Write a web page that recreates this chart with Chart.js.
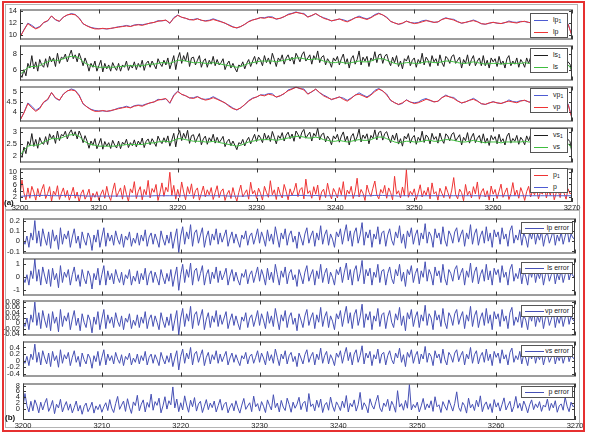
<!DOCTYPE html>
<html><head><meta charset="utf-8">
<script src="https://cdn.jsdelivr.net/npm/chart.js@4.4.1/dist/chart.umd.min.js"></script>
<style>
html,body{margin:0;padding:0;background:#fff;}
#wrap{position:relative;width:589px;height:438px;overflow:hidden;background:#fff;font-family:"Liberation Sans",Arial,sans-serif;}
canvas{position:absolute;left:0;}
.frame{position:absolute;box-sizing:border-box;}
.leg{position:absolute;box-sizing:border-box;border:1px solid #555;background:#fff;}
.leg .ln{position:absolute;height:0;border-top:1px solid;}
.leg .tx{position:absolute;font-size:7px;line-height:8px;color:#222;white-space:nowrap;}
.leg sub{font-size:5px;vertical-align:-1px;line-height:0;}
.lab{position:absolute;font-weight:bold;font-size:8px;line-height:8px;color:#111;}
</style></head><body><div id="wrap"></div>
<script>
// ---- time axis ----
const T_START = 3200, T_END = 3270;
const STEP_SMOOTH = 0.5, STEP_FINE = 0.25;
const xTicks = [3200,3210,3220,3230,3240,3250,3260,3270];

// ---- y tick labels ----
const lpTicks = [10,12,14];
const lsTicks = [6,8];
const vpTicks = [4,4.5,5];
const vsTicks = [2,2.5,3];
const pTicks = [2,4,6,8,10];
const lpErrTicks = [-0.1,0,0.1,0.2];
const lsErrTicks = [-1,0,1];
const vpErrTicks = [-0.04,-0.02,0,0.02,0.04,0.06,0.08];
const vsErrTicks = [-0.4,-0.2,0,0.2,0.4];
const pErrTicks = [0,2,4,6,8];

// ---- series (smooth ones every 0.5, noisy ones every 0.25) ----
const lp = [9.6,10.8,11.9,11.4,11.0,11.3,12.1,12.4,13.2,12.6,
12.3,13.0,13.4,13.5,13.4,12.8,11.9,11.5,11.2,11.0,
11.0,11.1,11.0,11.1,11.2,11.3,11.4,11.5,11.4,11.6,
11.7,11.6,11.8,12.0,12.1,12.3,12.4,12.5,12.0,12.8,
13.3,13.0,12.8,12.6,12.5,12.7,12.5,12.3,12.4,12.6,
12.4,12.2,12.0,11.6,11.3,11.2,11.4,11.8,12.2,12.5,
12.7,12.9,12.8,13.0,12.9,12.7,12.8,13.1,13.4,13.6,
13.8,13.7,13.5,13.0,13.3,13.6,13.2,12.8,12.6,12.4,
12.5,12.7,12.4,12.2,12.5,12.9,13.0,12.8,12.6,12.9,
13.3,13.6,13.4,12.9,12.3,12.0,11.8,12.0,12.3,12.1,
11.9,12.0,12.2,12.4,12.3,12.1,12.2,12.6,12.8,12.7,
12.5,12.2,12.0,12.1,12.3,12.4,12.2,11.9,11.8,12.0,
12.1,12.0,11.9,12.1,12.2,12.1,12.0,12.2,12.3,12.1,
12.0,12.1,12.2,12.1,12.0,12.1,12.2,12.0,11.9,11.8,
9.8];
const lp1 = [9.62,10.85,11.98,11.6,11.1,11.42,12.06,12.33,13.2,12.52,
12.27,13.02,13.34,13.62,13.45,12.89,11.86,11.53,11.26,11.11,
11.04,11.05,11.0,11.06,11.22,11.37,11.45,11.59,11.43,11.68,
11.76,11.71,11.84,11.97,12.11,12.4,12.36,12.48,11.93,12.92,
13.35,12.97,12.82,12.55,12.61,12.76,12.44,12.4,12.47,12.72,
12.48,12.25,11.95,11.69,11.37,11.14,11.42,11.76,12.28,12.54,
12.68,12.93,12.91,13.07,13.04,12.64,12.82,13.06,13.5,13.65,
13.89,13.66,13.63,13.05,13.25,13.61,13.17,12.91,12.67,12.34,
12.54,12.67,12.56,12.3,12.58,12.88,13.18,12.89,12.71,12.97,
13.44,13.68,13.35,13.02,12.26,12.03,11.78,11.93,12.34,12.07,
12.01,12.08,12.37,12.49,12.24,12.13,12.17,12.61,12.9,12.68,
12.63,12.26,11.95,12.12,12.27,12.52,12.25,11.88,11.8,11.94,
12.14,11.97,11.92,12.05,12.35,12.16,12.11,12.28,12.24,12.12,
11.97,12.11,12.15,12.18,12.04,12.06,12.2,11.97,12.02,11.87,
9.82];
const ls = [5.4,5.8,6.3,6.4,6.4,6.5,6.8,7.0,7.2,7.2,
7.2,7.4,7.6,7.7,7.7,7.5,7.0,6.7,6.5,6.4,
6.3,6.3,6.3,6.3,6.3,6.4,6.4,6.5,6.5,6.5,
6.5,6.5,6.6,6.7,6.7,6.8,6.9,6.9,6.8,7.0,
7.2,7.2,7.1,7.0,6.9,6.9,6.9,6.8,6.8,6.9,
6.8,6.7,6.6,6.5,6.4,6.3,6.4,6.6,6.8,6.9,
7.0,7.1,7.1,7.1,7.1,7.0,7.1,7.2,7.3,7.4,
7.5,7.5,7.4,7.3,7.3,7.4,7.3,7.1,7.0,6.9,
6.9,7.0,6.9,6.8,6.9,7.0,7.1,7.0,7.0,7.1,
7.3,7.4,7.4,7.2,7.0,6.8,6.7,6.8,6.9,6.9,
6.8,6.8,6.9,7.0,7.0,6.9,6.9,7.0,7.1,7.1,
7.0,6.9,6.8,6.8,6.9,7.0,6.9,6.8,6.7,6.8,
6.8,6.8,6.7,6.8,6.8,6.8,6.8,6.8,6.9,6.8,
6.8,6.8,6.8,6.8,6.8,6.8,6.8,6.7,6.7,6.6,
6.0];
const ls1 = [5.4,5.0,6.0,5.2,6.8,6.2,7.8,6.1,7.0,5.8,7.3,6.6,6.3,7.4,6.3,7.7,7.0,7.5,6.4,8.1,
6.8,7.6,7.4,8.0,7.0,7.8,8.5,7.4,7.9,7.0,8.1,7.4,6.5,7.5,6.8,5.8,6.8,6.3,7.1,5.8,
6.5,7.2,5.7,6.8,6.1,6.6,5.8,6.9,6.3,5.9,6.8,5.8,6.6,6.3,7.1,5.9,6.6,6.2,7.0,6.0,
6.8,6.3,7.2,5.9,6.8,7.1,6.3,7.1,6.6,6.1,7.4,6.8,6.4,7.2,6.6,7.5,6.1,6.9,7.8,6.0,
7.4,8.2,6.8,7.8,7.1,8.2,6.4,7.5,7.6,6.6,7.2,7.8,6.3,7.1,7.4,6.3,7.2,6.7,7.7,6.5,
7.3,6.6,6.9,7.4,6.0,6.7,7.1,6.2,6.8,6.2,5.7,6.6,6.4,7.0,6.1,6.8,7.3,6.4,7.1,7.7,
6.7,7.6,7.2,6.5,7.8,6.9,7.5,6.7,8.1,7.3,6.4,7.5,7.1,7.9,6.7,7.5,7.9,7.1,7.6,6.7,
8.1,7.6,7.0,7.9,8.3,7.1,7.5,7.9,6.7,7.8,7.3,8.4,6.9,7.6,7.8,6.6,7.4,7.0,6.3,7.5,
7.1,7.7,6.6,7.4,8.0,6.7,7.4,6.2,7.4,7.8,6.7,7.3,8.4,6.6,7.6,7.1,7.7,6.4,7.5,7.1,
8.3,6.9,7.9,8.0,6.8,7.7,8.0,7.1,6.5,7.6,6.9,7.8,6.4,7.1,6.1,7.4,7.1,7.8,6.5,7.2,
7.5,6.3,7.3,6.8,8.1,6.6,7.6,7.2,6.4,7.8,7.0,7.4,6.5,7.9,6.9,6.4,7.7,7.4,6.8,7.7,
7.9,6.8,7.2,7.6,6.2,7.3,6.8,7.9,6.5,7.3,7.8,6.5,7.1,7.5,6.5,7.8,6.5,7.2,6.2,7.5,
7.0,7.4,6.4,7.7,6.7,7.1,6.2,7.4,7.8,6.5,7.1,6.7,7.5,6.3,7.3,6.9,6.3,7.5,6.8,7.6,
6.4,7.2,6.7,7.4,6.2,7.0,7.3,6.5,7.0,7.5,6.3,7.1,6.6,7.4,6.3,6.9,7.5,6.5,7.0,6.7,
5.4];
const vp = [3.6,3.97,4.43,4.22,4.05,4.18,4.51,4.64,4.97,4.72,
4.6,4.89,5.06,5.1,5.06,4.81,4.43,4.26,4.13,4.05,
4.05,4.09,4.05,4.09,4.13,4.18,4.22,4.26,4.22,4.3,
4.34,4.3,4.39,4.47,4.51,4.6,4.64,4.68,4.47,4.81,
5.02,4.89,4.81,4.72,4.68,4.76,4.68,4.6,4.64,4.72,
4.64,4.55,4.47,4.3,4.18,4.13,4.22,4.39,4.55,4.68,
4.76,4.85,4.81,4.89,4.85,4.76,4.81,4.93,5.06,5.14,
5.23,5.18,5.1,4.89,5.02,5.14,4.97,4.81,4.72,4.64,
4.68,4.76,4.64,4.55,4.68,4.85,4.89,4.81,4.72,4.85,
5.02,5.14,5.06,4.85,4.6,4.47,4.39,4.47,4.6,4.51,
4.43,4.47,4.55,4.64,4.6,4.51,4.55,4.72,4.81,4.76,
4.68,4.55,4.47,4.51,4.6,4.64,4.55,4.43,4.39,4.47,
4.51,4.47,4.43,4.51,4.55,4.51,4.47,4.55,4.6,4.51,
4.47,4.51,4.55,4.51,4.47,4.51,4.55,4.47,4.43,4.39,
3.7];
const vp1 = [3.61,3.99,4.46,4.3,4.09,4.23,4.49,4.61,4.97,4.69,
4.59,4.9,5.04,5.15,5.08,4.85,4.41,4.27,4.15,4.09,
4.07,4.07,4.05,4.07,4.14,4.21,4.24,4.3,4.23,4.33,
4.36,4.34,4.41,4.46,4.51,4.64,4.62,4.67,4.44,4.86,
5.04,4.88,4.82,4.7,4.72,4.78,4.66,4.64,4.67,4.77,
4.67,4.57,4.45,4.34,4.21,4.11,4.23,4.37,4.58,4.7,
4.75,4.86,4.85,4.92,4.91,4.74,4.82,4.91,5.1,5.16,
5.25,5.16,5.15,4.91,5.0,5.14,4.96,4.85,4.75,4.62,
4.7,4.75,4.7,4.59,4.71,4.84,4.96,4.85,4.76,4.88,
5.08,5.17,5.04,4.9,4.58,4.48,4.38,4.44,4.62,4.5,
4.47,4.5,4.62,4.68,4.58,4.52,4.54,4.72,4.85,4.75,
4.73,4.57,4.45,4.52,4.59,4.69,4.57,4.42,4.39,4.45,
4.53,4.46,4.44,4.49,4.61,4.53,4.51,4.58,4.58,4.52,
4.46,4.51,4.53,4.54,4.49,4.49,4.55,4.46,4.48,4.42,
3.72];
const vs = [2.0,2.23,2.4,2.44,2.44,2.47,2.58,2.65,2.72,2.72,
2.72,2.79,2.86,2.89,2.89,2.82,2.65,2.54,2.47,2.44,
2.4,2.4,2.4,2.4,2.4,2.44,2.44,2.47,2.47,2.47,
2.47,2.47,2.51,2.54,2.54,2.58,2.61,2.61,2.58,2.65,
2.72,2.72,2.68,2.65,2.61,2.61,2.61,2.58,2.58,2.61,
2.58,2.54,2.51,2.47,2.44,2.4,2.44,2.51,2.58,2.61,
2.65,2.68,2.68,2.68,2.68,2.65,2.68,2.72,2.75,2.79,
2.82,2.82,2.79,2.75,2.75,2.79,2.75,2.68,2.65,2.61,
2.61,2.65,2.61,2.58,2.61,2.65,2.68,2.65,2.65,2.68,
2.75,2.79,2.79,2.72,2.65,2.58,2.54,2.58,2.61,2.61,
2.58,2.58,2.61,2.65,2.65,2.61,2.61,2.65,2.68,2.68,
2.65,2.61,2.58,2.58,2.61,2.65,2.61,2.58,2.54,2.58,
2.58,2.58,2.54,2.58,2.58,2.58,2.58,2.58,2.61,2.58,
2.58,2.58,2.58,2.58,2.58,2.58,2.58,2.54,2.54,2.51,
2.3];
const vs1 = [2.05,1.92,2.36,2.08,2.6,2.43,2.94,2.39,2.69,2.31,2.77,2.55,2.48,2.81,2.47,2.93,2.72,2.87,2.52,3.05,
2.64,2.9,2.84,3.04,2.71,2.96,3.1,2.84,3.02,2.71,3.05,2.85,2.55,2.85,2.62,2.31,2.62,2.44,2.72,2.29,
2.5,2.73,2.27,2.6,2.4,2.55,2.3,2.65,2.45,2.32,2.62,2.29,2.57,2.47,2.7,2.34,2.55,2.42,2.67,2.37,
2.62,2.47,2.75,2.34,2.61,2.71,2.46,2.72,2.57,2.39,2.83,2.63,2.51,2.76,2.56,2.84,2.4,2.66,2.95,2.37,
2.85,3.07,2.64,2.95,2.73,3.08,2.52,2.85,2.89,2.56,2.76,2.94,2.46,2.71,2.83,2.48,2.76,2.61,2.91,2.53,
2.78,2.55,2.67,2.82,2.38,2.59,2.7,2.42,2.62,2.44,2.25,2.55,2.49,2.69,2.41,2.64,2.78,2.5,2.71,2.91,
2.6,2.88,2.76,2.55,2.96,2.68,2.86,2.6,3.03,2.78,2.5,2.85,2.73,2.98,2.62,2.87,3.0,2.72,2.92,2.61,
3.05,2.9,2.72,3.0,3.12,2.74,2.88,3.0,2.62,2.95,2.82,3.17,2.67,2.9,2.96,2.58,2.83,2.7,2.46,2.84,
2.71,2.91,2.57,2.83,3.01,2.61,2.83,2.45,2.81,2.94,2.6,2.8,3.13,2.58,2.88,2.73,2.93,2.5,2.86,2.73,
3.1,2.67,2.99,3.04,2.66,2.94,3.02,2.75,2.55,2.88,2.66,2.96,2.49,2.72,2.4,2.83,2.71,2.94,2.53,2.76,
2.86,2.48,2.78,2.63,3.04,2.56,2.88,2.78,2.5,2.95,2.69,2.81,2.53,2.96,2.68,2.52,2.93,2.83,2.63,2.91,
2.98,2.62,2.76,2.89,2.45,2.78,2.63,2.98,2.53,2.79,2.95,2.55,2.74,2.86,2.53,2.93,2.54,2.74,2.43,2.86,
2.68,2.81,2.5,2.91,2.59,2.72,2.45,2.83,2.96,2.53,2.73,2.61,2.86,2.48,2.78,2.66,2.46,2.84,2.63,2.88,
2.5,2.76,2.61,2.83,2.45,2.71,2.78,2.53,2.68,2.86,2.48,2.73,2.58,2.81,2.46,2.67,2.84,2.51,2.69,2.59,
2.1];
const p = [2.2,2.3,2.4,2.4,2.5,2.5,2.5,2.5,2.4,2.4,
2.4,2.5,2.5,2.5,2.5,2.4,2.4,2.3,2.3,2.3,
2.3,2.3,2.3,2.3,2.3,2.3,2.3,2.3,2.3,2.3,
2.3,2.3,2.3,2.3,2.4,2.4,2.4,2.4,2.4,2.4,
2.4,2.4,2.4,2.4,2.4,2.4,2.4,2.4,2.4,2.4,
2.4,2.4,2.4,2.3,2.3,2.3,2.3,2.3,2.4,2.4,
2.4,2.4,2.4,2.4,2.4,2.4,2.4,2.4,2.4,2.5,
2.5,2.5,2.5,2.4,2.4,2.5,2.4,2.4,2.4,2.4,
2.4,2.4,2.4,2.4,2.4,2.4,2.4,2.4,2.4,2.4,
2.5,2.5,2.5,2.4,2.4,2.4,2.3,2.4,2.4,2.4,
2.4,2.4,2.4,2.4,2.4,2.4,2.4,2.4,2.4,2.4,
2.4,2.4,2.4,2.4,2.4,2.4,2.4,2.4,2.3,2.4,
2.4,2.4,2.4,2.4,2.4,2.4,2.4,2.4,2.4,2.4,
2.4,2.4,2.4,2.4,2.4,2.4,2.4,2.4,2.4,2.4,
2.4];
const p1 = [2.7,7.4,3.3,1.1,4.9,1.6,5.4,3.6,1.0,4.7,2.0,4.3,6.0,1.5,3.1,5.3,0.6,3.9,2.6,5.6,
1.2,3.2,4.9,1.9,4.1,1.0,2.9,5.1,1.6,3.6,0.4,3.1,4.3,1.3,2.6,4.5,0.7,3.2,1.9,3.7,
1.0,2.9,4.3,1.6,5.4,2.4,0.9,4.0,6.5,2.0,3.5,4.9,1.3,5.7,2.8,0.6,4.6,3.3,6.9,1.5,
3.8,5.3,1.1,4.4,2.7,7.3,1.7,4.7,3.5,6.0,0.9,3.3,6.5,2.2,5.1,3.7,9.9,2.6,5.7,1.3,
4.4,1.9,6.8,3.6,1.1,5.3,3.0,6.2,1.5,4.0,4.9,1.0,3.2,5.5,2.0,4.3,2.7,5.0,1.2,3.4,
5.6,1.8,3.8,4.6,0.9,2.9,4.1,1.5,5.0,2.5,0.7,3.5,5.8,2.0,3.2,4.3,1.3,6.7,3.0,4.1,
1.5,4.8,3.2,1.0,5.4,3.5,1.9,7.2,2.7,4.3,1.2,5.2,2.9,1.7,6.0,3.8,1.1,4.6,2.6,4.0,
6.4,2.1,4.3,5.0,1.4,7.7,3.1,4.0,1.6,5.3,2.9,5.8,1.0,3.6,4.5,1.8,6.4,3.3,1.4,4.7,
3.4,1.7,5.0,2.7,6.9,1.2,4.2,3.0,5.4,1.5,3.7,8.0,2.0,4.4,3.2,0.9,5.8,3.5,2.2,4.8,
7.1,2.7,1.4,4.4,3.2,5.7,1.6,4.9,3.4,1.1,8.6,2.9,4.0,1.7,5.2,2.5,10.7,1.9,3.8,2.7,
4.6,1.2,3.3,5.9,2.0,4.0,2.6,5.1,1.4,6.5,3.0,3.7,1.0,4.8,3.2,1.8,5.4,3.5,1.5,4.2,
8.2,2.8,1.4,4.5,3.4,0.8,6.0,2.6,3.9,1.7,5.3,3.0,6.8,1.3,3.6,4.7,2.0,4.0,1.0,5.5,
2.9,4.4,1.5,3.8,6.1,1.9,3.5,4.9,1.2,3.1,6.6,2.5,4.2,1.6,5.0,3.3,0.9,3.7,5.4,2.0,
4.0,2.7,4.8,1.4,3.6,2.9,5.7,1.7,4.2,2.6,5.1,1.1,3.3,4.0,1.8,6.4,3.2,1.3,4.6,3.0,
3.6];
const lpErr = [.02,-.03,.05,-.06,.08,.01,.2,-.02,.1,-.05,.12,.03,-.04,.09,-.07,.11,0,.06,-.08,.13,
-.03,.07,.02,.1,-.06,.04,.12,-.02,.05,-.07,.09,.01,-.04,.08,.03,-.09,.06,-.01,.11,-.06,
.04,.13,-.05,.08,0,.06,-.04,.1,.02,-.03,.07,-.06,.05,.01,.09,-.05,.03,-.02,.08,-.04,
.06,0,.11,-.05,.04,.08,-.03,.07,.01,-.06,.1,.02,-.04,.06,-.02,.09,-.07,.03,.12,-.11,
.05,.14,-.03,.09,.02,.16,-.05,.08,.11,-.02,.06,.13,-.06,.04,.1,-.04,.07,.01,.12,-.03,
.08,-.01,.05,.11,-.05,.03,.09,-.02,.07,0,-.06,.06,.02,.1,-.04,.05,.08,-.03,.04,.12,
-.02,.09,.03,-.05,.11,0,.07,-.03,.14,.04,-.06,.08,.02,.12,-.04,.06,.1,-.01,.05,-.07,
.09,.03,-.04,.07,.13,-.02,.05,.1,-.05,.08,.01,.15,-.03,.06,.11,-.04,.07,.02,-.06,.09,
.04,.12,-.03,.07,.16,0,.1,-.05,.08,.13,-.02,.06,.18,-.04,.09,.03,.11,-.06,.07,.02,
.14,-.03,.08,.1,-.05,.06,.12,.01,-.04,.09,.03,.15,-.02,.07,-.07,.1,.04,.13,-.03,.06,
.11,-.04,.08,.02,.17,-.02,.09,.05,-.06,.12,.03,.08,-.03,.14,.01,-.05,.1,.06,-.02,.09,
.13,-.01,.06,.11,-.05,.08,.02,.16,-.03,.07,.12,-.04,.05,.1,-.02,.14,0,.08,-.06,.11,
.04,.09,-.03,.13,.02,.07,-.05,.1,.15,-.02,.06,.01,.11,-.04,.08,.03,-.06,.09,.02,.12,
-.03,.07,.01,.1,-.05,.05,.08,-.02,.04,.11,-.04,.06,0,.09,-.03,.05,.12,-.01,.07,.03,
.02];
const lsErr = [0,-.4,.2,-.6,.5,-.1,1.4,-.3,.6,-.6,.8,.1,-.5,.6,-.7,.7,-.2,.3,-.8,.9,
-.4,.4,0,.6,-.6,.2,.8,-.3,.2,-.7,.6,-.1,-.5,.5,.1,-.9,.3,-.2,.7,-.6,
.2,.9,-.6,.5,-.2,.3,-.5,.6,0,-.4,.4,-.6,.2,-.1,.6,-.6,.1,-.3,.5,-.5,
.3,-.2,.7,-.6,.2,.5,-.4,.4,-.1,-.6,.6,0,-.5,.3,-.3,.6,-.7,.1,.8,-1,
.2,1,-.4,.6,0,1.1,-.6,.5,.7,-.3,.3,.9,-.6,.2,.6,-.5,.4,-.1,.8,-.4,
.5,-.2,.2,.7,-.6,.1,.6,-.3,.4,-.2,-.6,.3,0,.6,-.5,.2,.5,-.4,.2,.8,
-.3,.6,.1,-.6,.7,-.2,.4,-.4,1,.2,-.6,.5,0,.8,-.5,.3,.6,-.2,.2,-.7,
.6,.1,-.5,.4,.9,-.3,.2,.6,-.6,.5,-.1,1,-.4,.3,.7,-.5,.4,0,-.6,.6,
.2,.8,-.4,.4,1.1,-.2,.6,-.6,.5,.9,-.3,.3,1.3,-.5,.6,.1,.7,-.6,.4,0,
1,-.4,.5,.6,-.6,.3,.8,-.1,-.5,.6,.1,1,-.3,.4,-.7,.6,.2,.9,-.4,.3,
.7,-.5,.5,0,1.2,-.3,.6,.2,-.6,.8,.1,.5,-.4,1,-.1,-.6,.6,.3,-.3,.6,
.9,-.2,.3,.7,-.6,.5,0,1.1,-.4,.4,.8,-.5,.2,.6,-.3,1,-.2,.5,-.6,.7,
.2,.6,-.4,.9,0,.4,-.6,.6,1,-.3,.3,-.1,.7,-.5,.5,.1,-.6,.6,0,.8,
-.4,.4,-.1,.6,-.6,.2,.5,-.3,.2,.7,-.5,.3,-.2,.6,-.4,.2,.8,-.2,.4,.1,
0];
const vpErr = [.008,-.012,.02,-.024,.032,.004,.08,-.008,.04,-.02,.048,.012,-.016,.036,-.028,.044,0,.024,-.032,.052,
-.012,.028,.008,.04,-.024,.016,.048,-.008,.02,-.028,.036,.004,-.016,.032,.012,-.036,.024,-.004,.044,-.024,
.016,.052,-.02,.032,0,.024,-.016,.04,.008,-.012,.028,-.024,.02,.004,.036,-.02,.012,-.008,.032,-.016,
.024,0,.044,-.02,.016,.032,-.012,.028,.004,-.024,.04,.008,-.016,.024,-.008,.036,-.028,.012,.048,-.044,
.02,.056,-.012,.036,.008,.064,-.02,.032,.044,-.008,.024,.052,-.024,.016,.04,-.016,.028,.004,.048,-.012,
.032,-.004,.02,.044,-.02,.012,.036,-.008,.028,0,-.024,.024,.008,.04,-.016,.02,.032,-.012,.016,.048,
-.008,.036,.012,-.02,.044,0,.028,-.012,.056,.016,-.024,.032,.008,.048,-.016,.024,.04,-.004,.02,-.028,
.036,.012,-.016,.028,.052,-.008,.02,.04,-.02,.032,.004,.06,-.012,.024,.044,-.016,.028,.008,-.024,.036,
.016,.048,-.012,.028,.064,0,.04,-.02,.032,.052,-.008,.024,.072,-.016,.036,.012,.044,-.024,.028,.008,
.056,-.012,.032,.04,-.02,.024,.048,.004,-.016,.036,.012,.06,-.008,.028,-.028,.04,.016,.052,-.012,.024,
.044,-.016,.032,.008,.068,-.008,.036,.02,-.024,.048,.012,.032,-.012,.056,.004,-.02,.04,.024,-.008,.036,
.052,-.004,.024,.044,-.02,.032,.008,.064,-.012,.028,.048,-.016,.02,.04,-.008,.056,0,.032,-.024,.044,
.016,.036,-.012,.052,.008,.028,-.02,.04,.06,-.008,.024,.004,.044,-.016,.032,.012,-.024,.036,.008,.048,
-.012,.028,.004,.04,-.02,.02,.032,-.008,.016,.044,-.016,.024,0,.036,-.012,.02,.048,-.004,.028,.012,
.008];
const vsErr = [.05,-.08,.13,-.15,.2,.03,.5,-.05,.25,-.13,.3,.08,-.1,.23,-.18,.28,0,.15,-.2,.33,
-.08,.18,.05,.25,-.15,.1,.3,-.05,.13,-.18,.23,.03,-.1,.2,.08,-.23,.15,-.03,.28,-.15,
.1,.33,-.13,.2,0,.15,-.1,.25,.05,-.08,.18,-.15,.13,.03,.23,-.13,.08,-.05,.2,-.1,
.15,0,.28,-.13,.1,.2,-.08,.18,.03,-.15,.25,.05,-.1,.15,-.05,.23,-.18,.08,.3,-.28,
.13,.35,-.08,.23,.05,.4,-.13,.2,.28,-.05,.15,.33,-.15,.1,.25,-.1,.18,.03,.3,-.08,
.2,-.03,.13,.28,-.13,.08,.23,-.05,.18,0,-.15,.15,.05,.25,-.1,.13,.2,-.08,.1,.3,
-.05,.23,.08,-.13,.28,0,.18,-.08,.35,.1,-.15,.2,.05,.3,-.1,.15,.25,-.03,.13,-.18,
.23,.08,-.1,.18,.33,-.05,.13,.25,-.13,.2,.03,.38,-.08,.15,.28,-.1,.18,.05,-.15,.23,
.1,.3,-.08,.18,.4,0,.25,-.13,.2,.33,-.05,.15,.45,-.1,.23,.08,.28,-.15,.18,.05,
.35,-.08,.2,.25,-.13,.15,.3,.03,-.1,.23,.08,.38,-.05,.18,-.18,.25,.1,.33,-.08,.15,
.28,-.1,.2,.05,.43,-.05,.23,.13,-.15,.3,.08,.2,-.08,.35,.03,-.13,.25,.15,-.05,.23,
.33,-.03,.15,.28,-.13,.2,.05,.4,-.08,.18,.3,-.1,.13,.25,-.05,.35,0,.2,-.15,.28,
.1,.23,-.08,.33,.05,.18,-.13,.25,.38,-.05,.15,.03,.28,-.1,.2,.08,-.15,.23,.05,.3,
-.08,.18,.03,.25,-.13,.13,.2,-.05,.1,.28,-.1,.15,0,.23,-.08,.13,.3,-.03,.18,.08,
.05];
const pErr = [0.5,5.2,1.0,-1.2,2.5,-0.8,3.0,1.2,-1.5,2.2,-0.5,1.8,3.5,-1.0,0.6,2.8,-1.8,1.5,0.2,3.2,
-1.2,0.8,2.4,-0.6,1.6,-1.5,0.4,2.6,-0.9,1.1,-2.0,0.7,1.9,-1.1,0.3,2.2,-1.6,0.9,-0.4,1.4,
-1.3,0.6,2.0,-0.7,3.1,0.1,-1.4,1.7,4.2,-0.3,1.2,2.6,-1.0,3.4,0.5,-1.7,2.3,1.0,4.6,-0.8,
1.5,3.0,-1.2,2.1,0.4,5.0,-0.6,2.4,1.1,3.6,-1.5,0.9,4.1,-0.2,2.7,1.3,7.5,0.2,3.3,-1.1,
2.0,-0.5,4.4,1.2,-1.3,2.9,0.6,3.8,-0.9,1.6,2.5,-1.4,0.8,3.1,-0.4,1.9,0.3,2.6,-1.2,1.0,
3.2,-0.6,1.4,2.2,-1.5,0.5,1.8,-0.8,2.7,0.2,-1.6,1.2,3.5,-0.3,0.9,2.0,-1.1,4.3,0.6,1.7,
-0.9,2.4,0.8,-1.4,3.0,1.1,-0.5,4.8,0.3,1.9,-1.2,2.8,0.5,-0.7,3.6,1.4,-1.3,2.2,0.1,1.5,
3.9,-0.4,1.8,2.5,-1.1,5.2,0.7,1.6,-0.8,2.9,0.4,3.3,-1.4,1.2,2.1,-0.6,4.0,0.9,-1.0,2.3,
1.0,-0.7,2.6,0.3,4.5,-1.2,1.8,0.6,3.0,-0.9,1.3,5.6,-0.4,2.0,0.8,-1.5,3.4,1.1,-0.2,2.4,
4.6,0.2,-1.1,1.9,0.7,3.2,-0.8,2.5,1.0,-1.3,6.2,0.5,1.7,-0.6,2.8,0.1,8.3,-0.5,1.4,0.3,
2.2,-1.2,0.9,3.5,-0.4,1.6,0.2,2.7,-1.0,4.1,0.6,1.3,-1.4,2.4,0.8,-0.6,3.0,1.1,-0.9,1.8,
5.8,0.4,-1.0,2.1,1.0,-1.6,3.6,0.2,1.5,-0.7,2.9,0.6,4.4,-1.1,1.2,2.3,-0.3,1.7,-1.4,3.1,
0.5,2.0,-0.9,1.4,3.7,-0.5,1.1,2.5,-1.2,0.7,4.2,0.1,1.8,-0.8,2.6,0.9,-1.5,1.3,3.0,-0.4,
1.6,0.3,2.4,-1.0,1.2,0.5,3.3,-0.7,1.8,0.2,2.7,-1.3,0.9,1.6,-0.6,4.0,0.8,-1.1,2.2,0.6,
1.2];

// ---- styling ----
const RED = '#ee3434', BLUE = '#4d5bd2', BLACK = '#1e1e1e', GREEN = '#3fbd3f', BLUE_B = '#4650b4';
const FONT = '"Liberation Sans", Arial, sans-serif';
const W = 589;
const wrap = document.getElementById('wrap');

function pts(arr, step){ return arr.map((v,i)=>({x: T_START + i*step, y: v})); }

const framePlugin = {
  id: 'frame',
  afterDatasetsDraw(chart){
    const {ctx, chartArea: a} = chart;
    const x = chart.scales.x, y = chart.scales.y;
    ctx.save();
    ctx.strokeStyle = '#3a3a3a'; ctx.lineWidth = 1;
    ctx.beginPath();
    for (const v of xTicks){
      const px = Math.round(x.getPixelForValue(v)) + 0.5;
      ctx.moveTo(px, a.top); ctx.lineTo(px, a.top + 4);
      ctx.moveTo(px, a.bottom); ctx.lineTo(px, a.bottom - 4);
    }
    for (const t of y.ticks){
      const py = Math.round(y.getPixelForValue(t.value)) + 0.5;
      ctx.moveTo(a.left, py); ctx.lineTo(a.left + 3, py);
      ctx.moveTo(a.right, py); ctx.lineTo(a.right - 3, py);
    }
    ctx.stroke();
    ctx.strokeRect(a.left + 0.5, a.top + 0.5, a.right - a.left - 1, a.bottom - a.top - 1);
    ctx.restore();
  }
};

const rows = [
  {top:8, bottom:41, left:20, right:572, min:9.2, max:14.3, ticks:lpTicks,
   sets:[{d:lp,s:STEP_SMOOTH,c:RED},{d:lp1,s:STEP_SMOOTH,c:BLUE}],
   leg:{x:530,y:13,items:[{t:'lp',sub:'1',c:BLUE},{t:'lp',c:RED}]}},
  {top:44, bottom:82, left:20, right:572, min:4.6, max:9.1, ticks:lsTicks,
   sets:[{d:ls,s:STEP_SMOOTH,c:GREEN},{d:ls1,s:STEP_FINE,c:BLACK}],
   leg:{x:530,y:48,items:[{t:'ls',sub:'1',c:BLACK},{t:'ls',c:GREEN}]}},
  {top:85, bottom:123, left:20, right:572, min:3.55, max:5.27, ticks:vpTicks,
   sets:[{d:vp,s:STEP_SMOOTH,c:RED},{d:vp1,s:STEP_SMOOTH,c:BLUE}],
   leg:{x:530,y:88,items:[{t:'vp',sub:'1',c:BLUE},{t:'vp',c:RED}]}},
  {top:126, bottom:164, left:20, right:572, min:1.7, max:3.2, ticks:vsTicks,
   sets:[{d:vs,s:STEP_SMOOTH,c:GREEN},{d:vs1,s:STEP_FINE,c:BLACK}],
   leg:{x:530,y:128,items:[{t:'vs',sub:'1',c:BLACK},{t:'vs',c:GREEN}]}},
  {top:167, bottom:202, left:20, right:572, min:0.4, max:11.1, ticks:pTicks, xlab:true,
   sets:[{d:p,s:STEP_SMOOTH,c:BLUE},{d:p1,s:STEP_FINE,c:RED}],
   leg:{x:530,y:168,items:[{t:'p',sub:'1',c:RED},{t:'p',c:BLUE}]}},
  {top:217, bottom:255, left:23, right:575, min:-0.12, max:0.22, ticks:lpErrTicks,
   sets:[{d:lpErr,s:STEP_FINE,c:BLUE_B}], legB:{y:222,t:'lp error'}},
  {top:257, bottom:297, left:23, right:575, min:-1.4, max:1.45, ticks:lsErrTicks,
   sets:[{d:lsErr,s:STEP_FINE,c:BLUE_B}], legB:{y:262,t:'ls error'}},
  {top:299, bottom:337, left:23, right:575, min:-0.046, max:0.086, ticks:vpErrTicks,
   sets:[{d:vpErr,s:STEP_FINE,c:BLUE_B}], legB:{y:305,t:'vp error'}},
  {top:340, bottom:378, left:23, right:575, min:-0.48, max:0.58, ticks:vsErrTicks,
   sets:[{d:vsErr,s:STEP_FINE,c:BLUE_B}], legB:{y:345,t:'vs error'}},
  {top:382, bottom:420, left:23, right:575, min:-4, max:8.7, ticks:pErrTicks, xlab:true,
   sets:[{d:pErr,s:STEP_FINE,c:BLUE_B}], legB:{y:386,t:'p error'}}
];

// outer frames
function frameDiv(l,t,w,h,css){ const d=document.createElement('div'); d.className='frame';
  Object.assign(d.style,{left:l+'px',top:t+'px',width:w+'px',height:h+'px'},css); wrap.appendChild(d); }
frameDiv(5,4,573,206,{border:'1px solid #b4b4b4'});
frameDiv(5,210,575,218,{border:'1px solid #b4b4b4'});

rows.forEach(r=>{
  const padT = 6, padB = 6, xH = r.xlab ? 11 : 0;
  const h = r.bottom - r.top + padT + padB + xH;
  const c = document.createElement('canvas');
  c.width = W; c.height = h;
  c.style.top = (r.top - padT) + 'px'; c.style.width = W + 'px'; c.style.height = h + 'px';
  wrap.appendChild(c);
  new Chart(c, {
    type: 'line',
    data: { datasets: r.sets.map(s=>({data: pts(s.d, s.s), borderColor: s.c, borderWidth: 1,
      pointRadius: 0, tension: 0, clip: 0, fill: false})) },
    options: {
      responsive: false, animation: false, devicePixelRatio: 1, events: [],
      layout: { padding: { left: 0, right: W - r.right, top: padT, bottom: padB } },
      plugins: { legend: { display: false }, tooltip: { enabled: false } },
      scales: {
        x: { type: 'linear', min: T_START, max: T_END, display: !!r.xlab,
             afterFit: s=>{ s.height = xH; },
             afterBuildTicks: s=>{ s.ticks = xTicks.map(v=>({value:v})); },
             grid: { display: false, drawTicks: false }, border: { display: false },
             ticks: { autoSkip: false, maxRotation: 0, padding: 1, color: '#222',
                      font: { size: 7.5, family: FONT }, callback: v=>String(v) } },
        y: { type: 'linear', min: r.min, max: r.max,
             afterFit: s=>{ s.width = r.left; },
             afterBuildTicks: s=>{ s.ticks = r.ticks.map(v=>({value:v})); },
             grid: { display: false, drawTicks: false }, border: { display: false },
             ticks: { autoSkip: false, padding: 3, color: '#222',
                      font: { size: 7.5, family: FONT }, callback: v=>String(v) } }
      }
    },
    plugins: [framePlugin]
  });
  // legends
  if (r.leg){
    const d = document.createElement('div'); d.className='leg';
    Object.assign(d.style,{left:r.leg.x+'px',top:r.leg.y+'px',width:'38px',height:'25px'});
    r.leg.items.forEach((it,i)=>{
      const cy = 6 + i*12;
      const ln = document.createElement('div'); ln.className='ln';
      Object.assign(ln.style,{left:'3px',width:'14px',top:cy+'px',borderTopColor:it.c});
      const tx = document.createElement('div'); tx.className='tx';
      tx.innerHTML = it.t + (it.sub ? '<sub>'+it.sub+'</sub>' : '');
      Object.assign(tx.style,{left:'22px',top:(cy-4)+'px'});
      d.appendChild(ln); d.appendChild(tx);
    });
    wrap.appendChild(d);
  }
  if (r.legB){
    const d = document.createElement('div'); d.className='leg';
    Object.assign(d.style,{left:'521px',top:r.legB.y+'px',width:'52px',height:'12px'});
    const ln = document.createElement('div'); ln.className='ln';
    Object.assign(ln.style,{left:'3px',width:'19px',top:'5px',borderTopColor:BLUE_B});
    const tx = document.createElement('div'); tx.className='tx';
    tx.textContent = r.legB.t;
    Object.assign(tx.style,{right:'3px',top:'1px'});
    d.appendChild(ln); d.appendChild(tx);
    wrap.appendChild(d);
  }
});

// panel labels
function lab(t,l,tp){ const d=document.createElement('div'); d.className='lab'; d.textContent=t;
  Object.assign(d.style,{left:l+'px',top:tp+'px'}); wrap.appendChild(d); }
lab('(a)',4,199);
lab('(b)',5,414);

// red outer border
frameDiv(2,1,583,431,{border:'2px solid #e63030'});
</script>
</body></html>
